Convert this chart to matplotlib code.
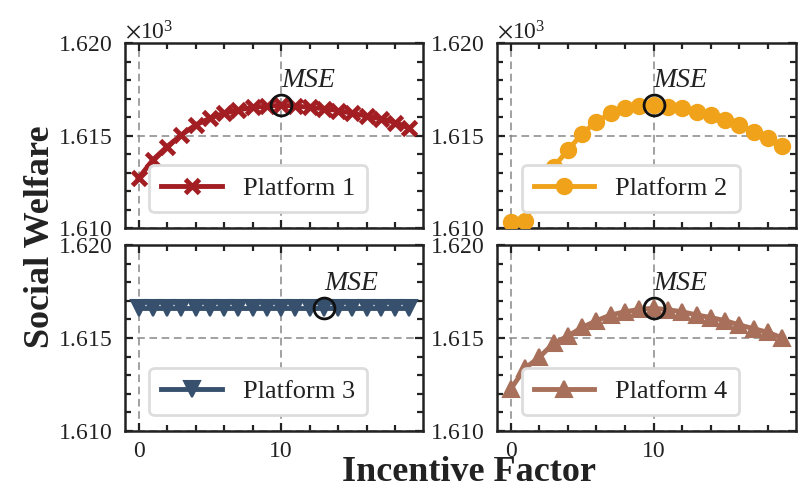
import matplotlib
matplotlib.use("Agg")
import matplotlib.pyplot as plt
from matplotlib.ticker import MultipleLocator, ScalarFormatter

plt.rcParams['font.family'] = ['Liberation Serif', 'DejaVu Serif']
plt.rcParams['mathtext.fontset'] = 'stix'

x = list(range(20))
p1 = [1612.69, 1613.68, 1614.40, 1615.03, 1615.57, 1615.93, 1616.20, 1616.38, 1616.52, 1616.59,
      1616.63, 1616.60, 1616.52, 1616.45, 1616.35, 1616.20, 1616.05, 1615.90, 1615.70, 1615.39]
p2 = [1610.34, 1610.40, 1611.80, 1613.30, 1614.20, 1615.10, 1615.75, 1616.20, 1616.47, 1616.59,
      1616.65, 1616.56, 1616.47, 1616.25, 1616.10, 1615.84, 1615.57, 1615.20, 1614.88, 1614.45]
p3 = [1616.6] * 20
p4 = [1612.24, 1613.37, 1613.96, 1614.71, 1615.10, 1615.57, 1615.93, 1616.24, 1616.41, 1616.54,
      1616.60, 1616.52, 1616.41, 1616.24, 1616.10, 1615.93, 1615.70, 1615.50, 1615.30, 1615.00]
series = [p1, p2, p3, p4]
labels = ['Platform 1', 'Platform 2', 'Platform 3', 'Platform 4']
colors = ['#A21E23', '#EFA21A', '#36506E', '#A8705A']
markers = ['x', 'o', 'v', '^']
mse_x = [10, 10, 13, 10]

fig = plt.figure(figsize=(8.08, 4.92), dpi=100)
W, H = 808, 492
def rect(l, t, r, b):
    return [l / W, 1 - b / H, (r - l) / W, (b - t) / H]

rects = [rect(125, 43, 423, 228), rect(497, 43, 796, 228),
         rect(125, 245, 423, 431), rect(497, 245, 796, 431)]

for i, (ys, lab, c, m, mx) in enumerate(zip(series, labels, colors, markers, mse_x)):
    ax = fig.add_axes(rects[i])
    if m == 'x':
        ms, mew = 10, 3.5
    else:
        ms, mew = 11, 1.5
    ax.plot(x, ys, color=c, lw=3.5, marker=m, ms=ms, mew=mew, mec=c, label=lab, zorder=3)
    my = ys[mx]
    ax.plot([mx], [my], marker='o', ms=15, mfc='none', mec='#111111', mew=2, zorder=4)
    ax.text(mx, my + 0.65, 'MSE', fontsize=20, style='italic', color='#222222',
            ha='left', va='bottom', zorder=5)
    ax.set_xlim(-0.95, 19.95)
    ax.set_ylim(1610, 1620)
    ax.xaxis.set_major_locator(MultipleLocator(10))
    ax.xaxis.set_minor_locator(MultipleLocator(2))
    ax.yaxis.set_major_locator(MultipleLocator(5))
    ax.yaxis.set_minor_locator(MultipleLocator(1))
    fmt = ScalarFormatter(useMathText=True, useOffset=False)
    fmt.set_powerlimits((0, 0))
    ax.yaxis.set_major_formatter(fmt)
    ax.yaxis.get_offset_text().set_fontsize(17)
    ax.yaxis.get_offset_text().set_color('#222222')
    if i >= 2:
        ax.yaxis.get_offset_text().set_visible(False)
    ax.grid(True, which='major', ls=(0, (5, 3)), color='#888888', lw=1.1)
    ax.tick_params(which='both', direction='in', top=True, right=True,
                   labelsize=17, labelcolor='#222222', width=1.6, color='#222222')
    ax.tick_params(which='major', length=6)
    ax.tick_params(which='minor', length=4)
    ax.tick_params(axis='y', which='major', pad=9)
    ax.tick_params(axis='x', which='major', pad=7)
    if i < 2:
        ax.tick_params(labelbottom=False)
    for s in ax.spines.values():
        s.set_linewidth(1.8)
        s.set_color('#222222')
    leg = ax.legend(loc='lower center', bbox_to_anchor=(0.447, 0.087), fontsize=19,
                    handlelength=2.3, frameon=True, fancybox=True, framealpha=1,
                    borderpad=0.45, handletextpad=0.8, borderaxespad=0)
    leg.get_frame().set_edgecolor('#DDDDDD')
    leg.get_frame().set_linewidth(2)
    for t in leg.get_texts():
        t.set_color('#222222')

fig.text(0.05, 0.518, 'Social Welfare', rotation=90, fontsize=26, fontweight='bold',
         ha='center', va='center', color='#222222')
fig.text(0.58, 0.04, 'Incentive Factor', fontsize=26, fontweight='bold',
         ha='center', va='center', color='#222222')

fig.savefig('out.png', dpi=100)
